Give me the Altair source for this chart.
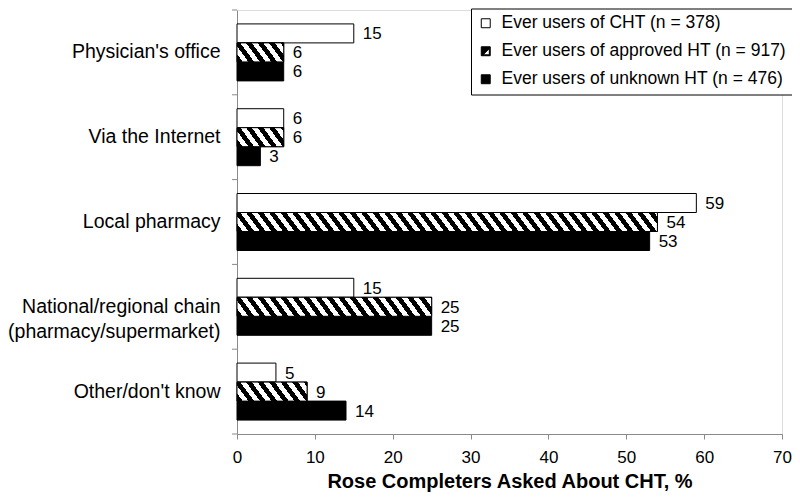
import altair as alt
import pandas as pd

categories = [
    "Physician's office",
    "Via the Internet",
    "Local pharmacy",
    "National/regional chain\n(pharmacy/supermarket)",
    "Other/don't know",
]
series = [
    "Ever users of CHT (n = 378)",
    "Ever users of approved HT (n = 917)",
    "Ever users of unknown HT (n = 476)",
]
cht = [15, 6, 59, 15, 5]
approved = [6, 6, 54, 25, 9]
unknown = [6, 3, 53, 25, 14]
x_ticks = [0, 10, 20, 30, 40, 50, 60, 70]
x_title = "Rose Completers Asked About CHT, %"

rows = []
for i, c in enumerate(categories):
    for s, vals in zip(series, [cht, approved, unknown]):
        rows.append({"cat": c, "series": s, "value": vals[i]})
df = pd.DataFrame(rows)
cat_df = pd.DataFrame({"cat": categories})

# layout (svg total width kept at 784 so the page does not rescale it)
PAD_L, PAD_R, PAD_T, PAD_B = 229, 10, 2, 59
PLOT_W = 784 - PAD_L - PAD_R
PLOT_H = 424
X_MAX = 70
PAD_INNER = 0.328
PAD_OUTER = PAD_INNER / 2
step = PLOT_H / (len(categories) - PAD_INNER + 2 * PAD_OUTER)
bar_h = step * (1 - PAD_INNER) / 3
half_gap = step * PAD_INNER / 2

FONT = "Liberation Sans"
AXIS_GRAY = "#8a8a8a"


def hatch(width_px, height_px, period=11.5, shift=14.0, black=0.5):
    """Diagonal stripe fill as a linear gradient in bounding-box units."""
    W = max(width_px, 1.0)
    s = shift
    a = W / (W + s)
    b = -s / (W + s)
    n2 = a * a + b * b
    x2 = a / n2
    y2 = 1 + b / n2
    N = (W + s) / period
    stops = []
    k = 0
    while k / N < 1:
        t0 = k / N
        t1 = min((k + black) / N, 1.0)
        t2 = min((k + 1) / N, 1.0)
        stops += [
            {"offset": round(t0, 5), "color": "white"},
            {"offset": round(t0, 5), "color": "black"},
            {"offset": round(t1, 5), "color": "black"},
            {"offset": round(t1, 5), "color": "white"},
            {"offset": round(t2, 5), "color": "white"},
        ]
        k += 1
    return {"gradient": "linear", "stops": stops, "x1": 0, "y1": 1,
            "x2": round(x2, 5), "y2": round(y2, 5)}


y_scale = alt.Scale(domain=categories, paddingInner=PAD_INNER, paddingOuter=PAD_OUTER)
y_axis = alt.Axis(
    title=None, ticks=False, tickSize=0, labelPadding=17, labelFontSize=19.5,
    labelFont=FONT, labelColor="black", labelAlign="right", labelBaseline="middle",
    labelLineHeight=25, labelLimit=400, domainColor=AXIS_GRAY, domainWidth=1,
    labelExpr="split(datum.label, '\\n')",
)
x_scale = alt.Scale(domain=[0, X_MAX], nice=False, zero=True)
x_axis = alt.Axis(
    values=x_ticks, title=x_title, grid=False, tickSize=5, tickColor=AXIS_GRAY,
    domainColor=AXIS_GRAY, labelFontSize=17, labelFont=FONT, labelColor="black",
    labelPadding=10, titleFont=FONT, titleFontSize=20, titleFontWeight="bold",
    titleColor="black", titleY=53, titleBaseline="alphabetic", labelFlush=False,
)
off_scale = alt.Scale(domain=series, paddingInner=0, paddingOuter=0)

Y = alt.Y("cat:N", sort=categories, scale=y_scale, axis=y_axis)
X = alt.X("value:Q", scale=x_scale, axis=x_axis)
YO = alt.YOffset("series:N", sort=series, scale=off_scale)

base = alt.Chart(df)

bars = base.mark_bar(stroke="black", strokeWidth=1).encode(
    x=X, y=Y, yOffset=YO,
    fill=alt.condition(f"datum.series == '{series[0]}'", alt.value("white"), alt.value("black")),
)

hatched_layers = []
for c, v in zip(categories, approved):
    w_px = v / X_MAX * PLOT_W
    hatched_layers.append(
        base.transform_filter(
            (alt.datum.series == series[1]) & (alt.datum.cat == c)
        ).mark_bar(stroke="black", strokeWidth=1, fill=hatch(w_px, bar_h)).encode(
            x=X, y=Y, yOffset=YO
        )
    )

labels = base.mark_text(
    align="left", baseline="middle", dx=9, dy=1, fontSize=17, font=FONT, color="black"
).encode(x=X, y=Y, yOffset=YO, text=alt.Text("value:Q"))

ticks_top = alt.Chart(cat_df).mark_rule(
    color=AXIS_GRAY, strokeWidth=1, yOffset=-half_gap
).encode(
    x=alt.value(-5), x2=alt.value(0),
    y=alt.Y("cat:N", sort=categories, scale=y_scale, axis=y_axis, bandPosition=0),
)
ticks_bottom = alt.Chart(cat_df).transform_filter(
    alt.datum.cat == categories[-1]
).mark_rule(color=AXIS_GRAY, strokeWidth=1, yOffset=half_gap).encode(
    x=alt.value(-5), x2=alt.value(0),
    y=alt.Y("cat:N", sort=categories, scale=y_scale, axis=y_axis, bandPosition=1),
)

sq = "M-1,-1H1V1H-1Z"
sq_hatch = "M-1,-1H1V1H-1Z M0.8,-0.6L-0.6,0.8H0.8Z"
legend = alt.Legend(
    title=None, orient="none", legendX=PLOT_W - 311, legendY=-1.5,
    labelFont=FONT, labelFontSize=17.5, labelColor="black", labelLimit=500,
    symbolSize=80, symbolStrokeColor="black", symbolStrokeWidth=1, symbolOpacity=1,
    labelOffset=7, rowPadding=9, padding=6,
    strokeColor="black", fillColor="white",
)
legend_pts = base.mark_point(
    filled=True, size=80, strokeWidth=1, opacity=1, clip=True
).encode(
    x=alt.value(-200), y=alt.value(-200),
    fill=alt.Fill("series:N", sort=series,
                  scale=alt.Scale(domain=series, range=["white", "black", "black"]),
                  legend=legend),
    stroke=alt.Stroke("series:N", sort=series,
                      scale=alt.Scale(domain=series, range=["black", "black", "black"]),
                      legend=legend),
    shape=alt.Shape("series:N", sort=series,
                    scale=alt.Scale(domain=series, range=[sq, sq_hatch, sq]),
                    legend=legend),
)

chart = alt.layer(
    bars, *hatched_layers, labels, ticks_top, ticks_bottom, legend_pts
).properties(
    width=PLOT_W, height=PLOT_H,
    padding={"left": PAD_L, "top": PAD_T, "right": PAD_R, "bottom": PAD_B},
    autosize=alt.AutoSizeParams(type="none"),
).configure_view(stroke=None).configure(font=FONT)

chart.save("out.html", embed_options={"renderer": "svg", "actions": False})
